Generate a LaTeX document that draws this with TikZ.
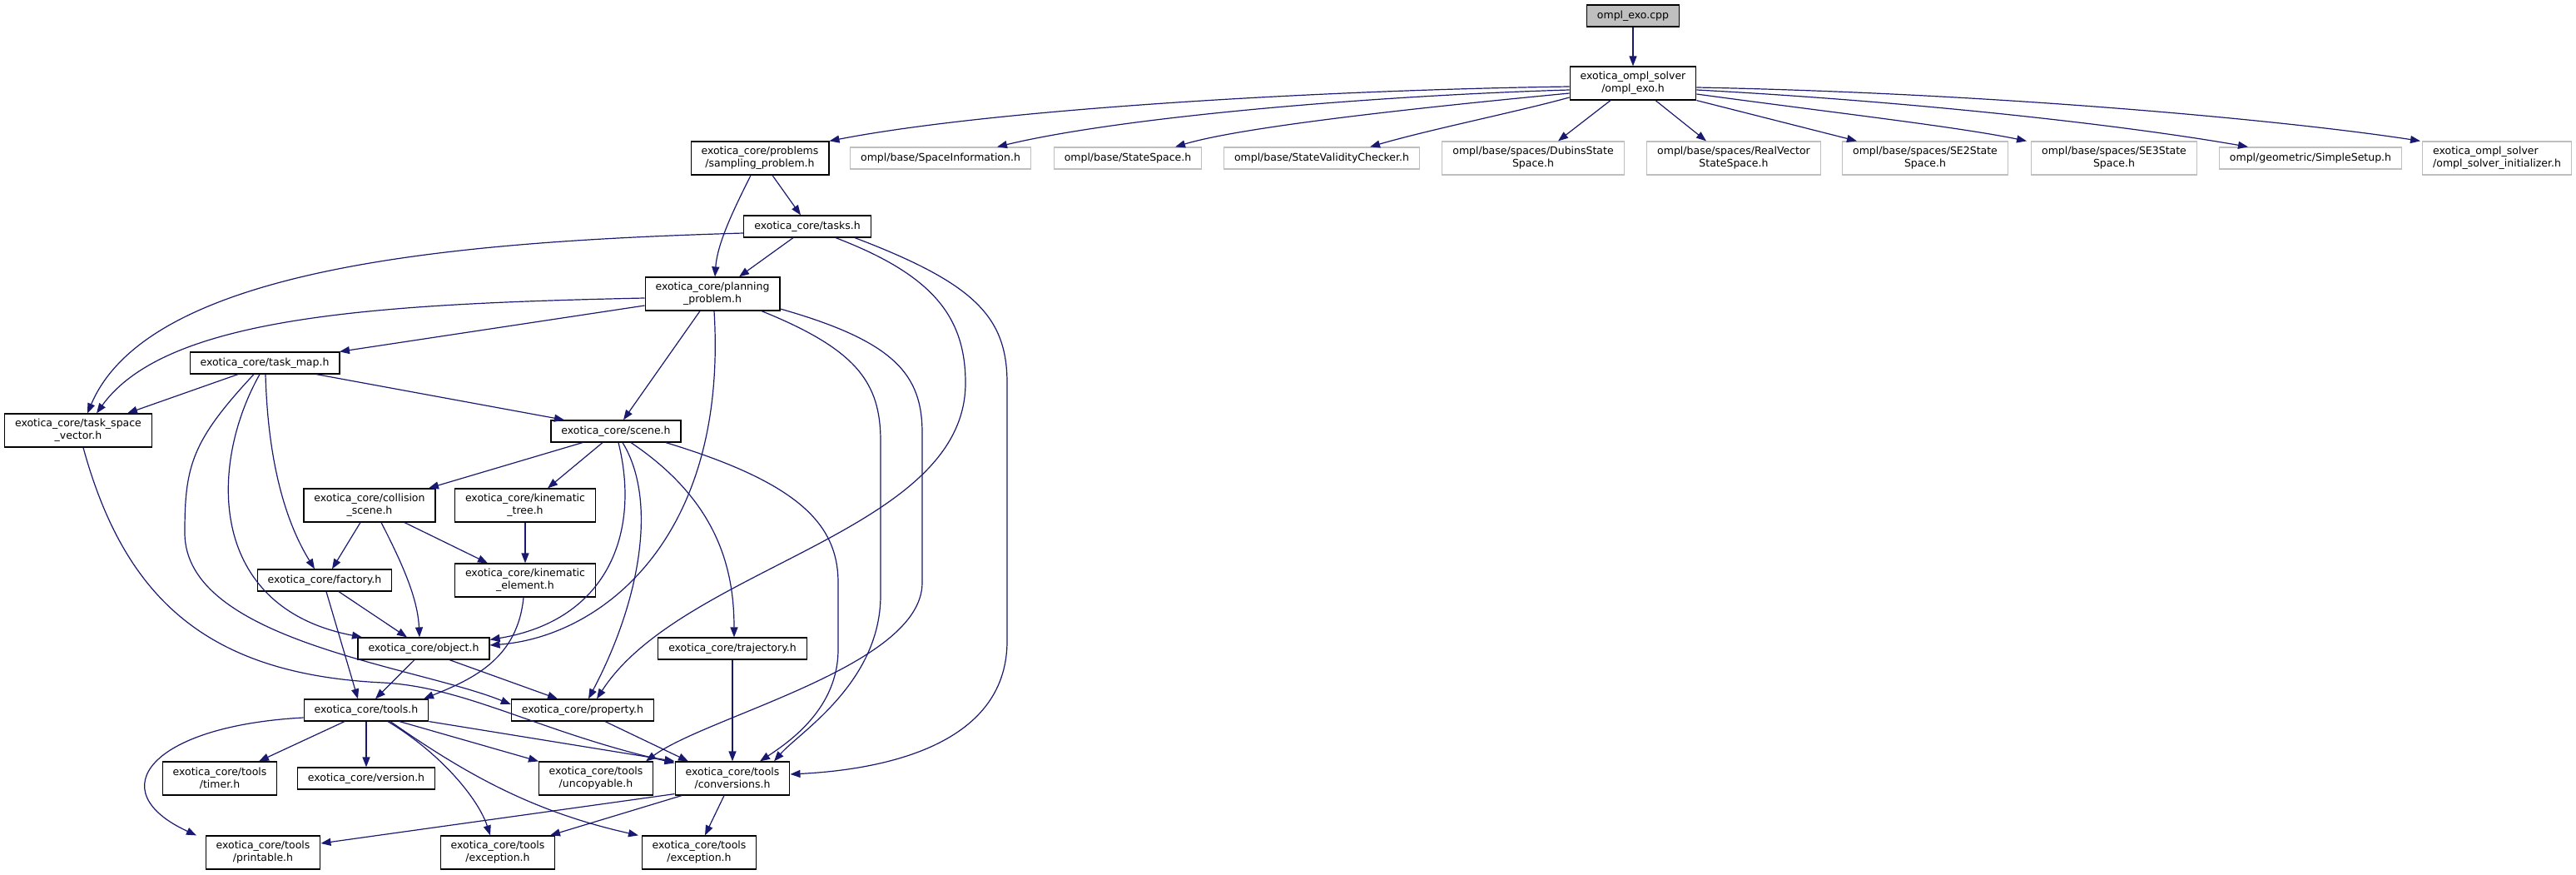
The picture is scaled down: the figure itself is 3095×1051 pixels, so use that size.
\documentclass[tikz,border=0pt]{standalone}
\usepackage{fontspec}
\setmainfont{DejaVu Sans}
\usetikzlibrary{arrows.meta}
\definecolor{edgeblue}{HTML}{191970}
\definecolor{extgray}{HTML}{BFBFBF}
\tikzset{
  file/.style={draw=black, line width=1.2pt, font=\fontsize{12.5}{15}\selectfont, align=center, inner xsep=12.5pt, inner ysep=2pt, minimum height=26pt},
  file2/.style={file, minimum height=40pt},
  ext/.style={file, draw=extgray},
  ext2/.style={file2, draw=extgray},
  root/.style={file, fill=extgray},
  dep/.style={draw=edgeblue, line width=1.2pt, -{Triangle[length=12pt,width=9pt]}}
}
\begin{document}
\begin{tikzpicture}[x=1pt,y=-1pt]
\useasboundingbox (0,0) rectangle (3095,1051);
\node[root] at (1962,19) (cpp) {ompl\_exo.cpp};
\node[file2] at (1962,100) (exoh) {exotica\_ompl\_solver\\/ompl\_exo.h};
\node[file2] at (913,190) (sampling) {exotica\_core/problems\\/sampling\_problem.h};
\node[ext] at (1130,190) (spaceinfo) {ompl/base/SpaceInformation.h};
\node[ext] at (1355,190) (statespace) {ompl/base/StateSpace.h};
\node[ext] at (1588,190) (validity) {ompl/base/StateValidityChecker.h};
\node[ext2] at (1842,190) (dubins) {ompl/base/spaces/DubinsState\\Space.h};
\node[ext2] at (2083,190) (realvec) {ompl/base/spaces/RealVector\\StateSpace.h};
\node[ext2] at (2313,190) (setwo) {ompl/base/spaces/SE2State\\Space.h};
\node[ext2] at (2540,190) (sethree) {ompl/base/spaces/SE3State\\Space.h};
\node[ext] at (2776,190) (simple) {ompl/geometric/SimpleSetup.h};
\node[ext2,align=left] at (3000,190) (initializer) {exotica\_ompl\_solver\\/ompl\_solver\_initializer.h};
\node[file] at (970,272) (tasks) {exotica\_core/tasks.h};
\node[file2] at (856,353) (planning) {exotica\_core/planning\\\_problem.h};
\node[file] at (318,436) (taskmap) {exotica\_core/task\_map.h};
\node[file2] at (94,517) (tsv) {exotica\_core/task\_space\\\_vector.h};
\node[file] at (740,518) (scene) {exotica\_core/scene.h};
\node[file2] at (444,607) (collision) {exotica\_core/collision\\\_scene.h};
\node[file2] at (631,607) (kintree) {exotica\_core/kinematic\\\_tree.h};
\node[file] at (390,697) (factory) {exotica\_core/factory.h};
\node[file2] at (631,697) (kinelem) {exotica\_core/kinematic\\\_element.h};
\node[file] at (509,779) (object) {exotica\_core/object.h};
\node[file] at (880,779) (trajectory) {exotica\_core/trajectory.h};
\node[file] at (440,853) (tools) {exotica\_core/tools.h};
\node[file] at (700,853) (property) {exotica\_core/property.h};
\node[file2] at (264,935) (timer) {exotica\_core/tools\\/timer.h};
\node[file] at (440,935) (version) {exotica\_core/version.h};
\node[file2] at (716,935) (uncopyable) {exotica\_core/tools\\/uncopyable.h};
\node[file2] at (880,935) (conversions) {exotica\_core/tools\\/conversions.h};
\node[file2] at (316,1024) (printable) {exotica\_core/tools\\/printable.h};
\node[file2] at (598,1024) (exceptiona) {exotica\_core/tools\\/exception.h};
\node[file2] at (840,1024) (exceptionb) {exotica\_core/tools\\/exception.h};

\draw[dep] (cpp) -- (exoh);
\draw[dep] ([yshift=-4pt]exoh.west) .. controls (1600,108) and (1200,130) .. (sampling.north east);
\draw[dep] ([yshift=-8pt]exoh.west) .. controls (1650,115) and (1350,140) .. ([xshift=68pt]spaceinfo.north);
\draw[dep] ([yshift=-12pt]exoh.west) .. controls (1750,125) and (1500,150) .. ([xshift=57pt]statespace.north);
\draw[dep] ([yshift=-17pt]exoh.west) .. controls (1820,135) and (1720,155) .. ([xshift=58pt]validity.north);
\draw[dep] ([xshift=-27pt]exoh.south) -- ([xshift=30pt]dubins.north);
\draw[dep] ([xshift=27pt]exoh.south) -- ([xshift=-33pt]realvec.north);
\draw[dep] (exoh.south east) -- ([xshift=-82pt]setwo.north);
\draw[dep] ([yshift=-13pt]exoh.east) .. controls (2200,135) and (2350,152) .. ([xshift=-105pt]sethree.north);
\draw[dep] ([yshift=-8pt]exoh.east) .. controls (2300,122) and (2550,150) .. ([xshift=-75pt]simple.north);
\draw[dep] ([yshift=-5pt]exoh.east) .. controls (2400,112) and (2750,145) .. ([xshift=-92pt]initializer.north);

\draw[dep] ([xshift=-11pt]sampling.south) .. controls (885,245) and (862,290) .. ([xshift=3pt]planning.north);
\draw[dep] ([xshift=15pt]sampling.south) -- ([xshift=-8pt]tasks.north);
\draw[dep] ([xshift=-17pt]tasks.south) -- ([xshift=32pt]planning.north);
\draw[dep] ([yshift=-8pt]tasks.west) .. controls (550,290) and (180,320) .. ([xshift=11pt]tsv.north);
\draw[dep] ([xshift=34pt]tasks.south) .. controls (1120,330) and (1160,380) .. (1160,460) .. controls (1160,640) and (820,680) .. ([xshift=17pt]property.north);
\draw[dep] ([xshift=57pt]tasks.south) .. controls (1170,340) and (1210,380) .. (1210,460) -- (1210,770) .. controls (1210,900) and (1050,925) .. ([yshift=5pt]conversions.east);

\draw[dep] ([yshift=-5pt]planning.west) .. controls (450,365) and (200,380) .. ([xshift=22pt]tsv.north);
\draw[dep] ([yshift=-14pt]planning.west) -- ([xshift=90pt]taskmap.north);
\draw[dep] ([xshift=-15pt]planning.south) -- ([xshift=9pt]scene.north);
\draw[dep] ([xshift=2pt]planning.south) .. controls (875,650) and (720,765) .. ([yshift=4pt]object.east);
\draw[dep] ([yshift=-18pt]planning.east) .. controls (1075,410) and (1108,450) .. (1108,520) -- (1108,700) .. controls (1108,800) and (850,860) .. ([xshift=60pt]uncopyable.north);
\draw[dep] ([xshift=59pt]planning.south) .. controls (1030,420) and (1058,460) .. (1058,530) -- (1058,715) .. controls (1058,820) and (960,880) .. ([xshift=50pt]conversions.north);

\draw[dep] ([xshift=-32pt]taskmap.south) -- ([xshift=59pt]tsv.north);
\draw[dep] ([xshift=62pt]taskmap.south) -- ([xshift=-62pt]scene.north);
\draw[dep] ([xshift=1pt]taskmap.south) .. controls (322,560) and (345,630) .. ([xshift=-12pt]factory.north);
\draw[dep] ([xshift=-6pt]taskmap.south) .. controls (250,560) and (250,730) .. ([xshift=-74pt]object.north);
\draw[dep] ([xshift=-13pt]taskmap.south) .. controls (230,530) and (222,560) .. (222,640) .. controls (222,770) and (500,800) .. ([yshift=7pt]property.west);
\draw[dep] ([xshift=6pt]tsv.south) .. controls (150,720) and (250,810) .. (460,820) .. controls (560,825) and (650,880) .. ([yshift=-2pt]conversions.north west);

\draw[dep] ([xshift=-40pt]scene.south) -- ([xshift=71pt]collision.north);
\draw[dep] ([xshift=-16pt]scene.south) -- ([xshift=27pt]kintree.north);
\draw[dep] ([xshift=3pt]scene.south) .. controls (770,640) and (730,745) .. ([yshift=-3pt]object.north east);
\draw[dep] ([xshift=8pt]scene.south) .. controls (790,600) and (770,720) .. ([xshift=7pt]property.north);
\draw[dep] ([xshift=18pt]scene.south) .. controls (860,600) and (882,680) .. ([xshift=2pt]trajectory.north);
\draw[dep] ([xshift=60pt]scene.south) .. controls (960,580) and (1007,630) .. (1007,700) -- (1007,780) .. controls (1007,850) and (950,890) .. ([xshift=33pt]conversions.north);

\draw[dep] ([xshift=-11pt]collision.south) -- ([xshift=9pt]factory.north);
\draw[dep] ([xshift=14pt]collision.south) .. controls (485,680) and (502,720) .. ([xshift=-5pt]object.north);
\draw[dep] ([xshift=42pt]collision.south) -- ([xshift=-45pt]kinelem.north);
\draw[dep] (kintree) -- (kinelem);
\draw[dep] ([xshift=17pt]factory.south) -- ([xshift=-20pt]object.north);
\draw[dep] ([xshift=2pt]factory.south) -- ([xshift=-10pt]tools.north);
\draw[dep] ([xshift=-2pt]kinelem.south) .. controls (622,790) and (570,815) .. ([xshift=69pt]tools.north);
\draw[dep] ([xshift=-11pt]object.south) -- ([xshift=11pt]tools.north);
\draw[dep] ([xshift=31pt]object.south) -- ([xshift=-30pt]property.north);
\draw[dep] (trajectory) -- (conversions);

\draw[dep] ([yshift=-9pt]tools.west) .. controls (180,872) and (120,950) .. ([xshift=-80pt]printable.north);
\draw[dep] ([xshift=-26pt]tools.south) -- ([xshift=47pt]timer.north);
\draw[dep] (tools) -- (version);
\draw[dep] ([xshift=26pt]tools.south) .. controls (530,905) and (575,960) .. ([xshift=-9pt]exceptiona.north);
\draw[dep] ([xshift=29pt]tools.south) .. controls (560,930) and (640,975) .. ([xshift=-73pt]exceptionb.north);
\draw[dep] ([xshift=40pt]tools.south) -- ([xshift=-69pt]uncopyable.north);
\draw[dep] (tools.south east) -- (conversions.north west);
\draw[dep] ([xshift=27pt]property.south) -- ([xshift=-53pt]conversions.north);
\draw[dep] ([yshift=2pt]conversions.south west) -- ([yshift=11pt]printable.east);
\draw[dep] ([xshift=-61pt]conversions.south) -- ([xshift=63pt]exceptiona.north);
\draw[dep] ([xshift=-10pt]conversions.south) -- ([xshift=7pt]exceptionb.north);
\end{tikzpicture}
\end{document}
